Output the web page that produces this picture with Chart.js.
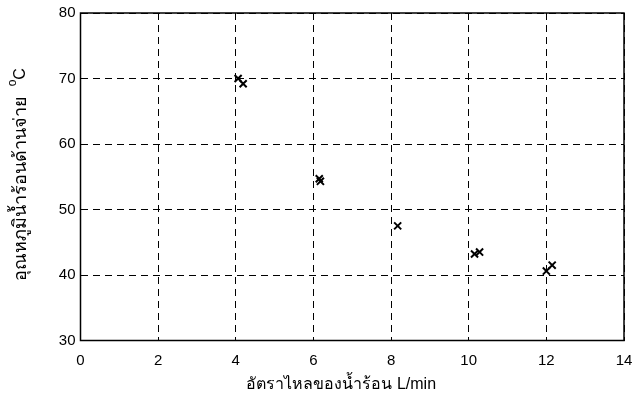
<!DOCTYPE html>
<html>
<head>
<meta charset="utf-8">
<script src="https://cdn.jsdelivr.net/npm/chart.js@4/dist/chart.umd.min.js"></script>
<style>
  html, body { margin: 0; padding: 0; background: #fff; }
  #wrap { width: 639px; height: 400px; }
</style>
</head>
<body>
<div id="wrap"><canvas id="c" width="639" height="400"></canvas></div>
<script>
// Hot-water flow rate (L/min) vs. supply-side hot water temperature (°C)
const flowRunA = [4.06, 6.15, 8.17, 10.15, 12.0];
const tempRunA = [70.0, 54.7, 47.5, 43.2, 40.6];
const flowRunB = [4.19, 6.18, 10.28, 12.15];
const tempRunB = [69.2, 54.3, 43.5, 41.5];

const xTicks = [0, 2, 4, 6, 8, 10, 12, 14];
const yTicks = [30, 40, 50, 60, 70, 80];

const xTitle = 'อัตราไหลของน้ำร้อน L/min';
const yTitle = 'อุณหภูมิน้ำร้อนด้านจ่าย';
const yUnitSup = 'o';
const yUnit = 'C';

const FONT = "'Liberation Sans', Arial, 'Noto Sans', sans-serif";

const toPoints = (xs, ys) => xs.map((x, i) => ({ x: x, y: ys[i] }));

// Axis titles, drawn by hand so the unit can carry a superscript
const titlesPlugin = {
  id: 'axisTitles',
  afterDraw(chart) {
    const { ctx, chartArea } = chart;
    ctx.save();
    ctx.fillStyle = '#000';
    ctx.textBaseline = 'middle';
    ctx.font = '16px ' + FONT;
    ctx.textAlign = 'center';
    ctx.fillText(xTitle, (chartArea.left + chartArea.right) / 2 - 11, 385);

    // rotated y title with superscript degree mark
    ctx.translate(21, (chartArea.top + chartArea.bottom) / 2 - 2);
    ctx.rotate(-Math.PI / 2);
    ctx.font = '18px ' + FONT;
    const wMain = ctx.measureText(yTitle + '  ').width;
    ctx.font = '12px ' + FONT;
    const wSup = ctx.measureText(yUnitSup).width;
    ctx.font = '16px ' + FONT;
    const wUnit = ctx.measureText(yUnit).width;
    let x = -(wMain + wSup + wUnit) / 2;
    ctx.textAlign = 'left';
    ctx.font = '18px ' + FONT;
    ctx.fillText(yTitle + '  ', x, 0);
    x += wMain;
    ctx.font = '12px ' + FONT;
    ctx.fillText(yUnitSup, x, -8);
    x += wSup;
    ctx.font = '16px ' + FONT;
    ctx.fillText(yUnit, x, 0);
    ctx.restore();
  }
};

// Solid frame round the plot area
const framePlugin = {
  id: 'frame',
  afterDatasetsDraw(chart) {
    const { ctx, chartArea: a } = chart;
    ctx.save();
    ctx.strokeStyle = '#000';
    ctx.lineWidth = 1.5;
    ctx.strokeRect(a.left, a.top, a.right - a.left, a.bottom - a.top);
    ctx.restore();
  }
};

new Chart(document.getElementById('c'), {
  type: 'scatter',
  data: {
    datasets: [
      {
        data: toPoints(flowRunA, tempRunA),
        pointStyle: 'crossRot',
        radius: 5,
        borderColor: '#000',
        borderWidth: 2,
        backgroundColor: '#000'
      },
      {
        data: toPoints(flowRunB, tempRunB),
        pointStyle: 'crossRot',
        radius: 5,
        borderColor: '#000',
        borderWidth: 2,
        backgroundColor: '#000'
      }
    ]
  },
  options: {
    responsive: false,
    animation: false,
    events: [],
    layout: { padding: { top: 13, right: 15, left: 0, bottom: 0 } },
    plugins: {
      legend: { display: false },
      tooltip: { enabled: false }
    },
    scales: {
      x: {
        type: 'linear',
        min: 0,
        max: 14,
        afterBuildTicks(scale) { scale.ticks = xTicks.map(v => ({ value: v })); },
        afterFit(scale) {
          scale.height = 59.5;
          scale.paddingLeft = 0;
          scale.paddingRight = 0;
        },
        ticks: {
          color: '#000',
          font: { family: FONT, size: 15 },
          padding: 11,
          maxRotation: 0
        },
        grid: {
          color: '#000',
          lineWidth: 1,
          drawTicks: false,
          tickLength: 0
        },
        border: { display: false, dash: [7, 5] }
      },
      y: {
        type: 'linear',
        min: 30,
        max: 80,
        afterBuildTicks(scale) { scale.ticks = yTicks.map(v => ({ value: v })); },
        afterFit(scale) {
          scale.width = 80.5;
          scale.paddingTop = 0;
          scale.paddingBottom = 0;
        },
        ticks: {
          color: '#000',
          font: { family: FONT, size: 15 },
          padding: 5
        },
        grid: {
          color: '#000',
          lineWidth: 1,
          drawTicks: false,
          tickLength: 0
        },
        border: { display: false, dash: [7, 5] }
      }
    }
  },
  plugins: [framePlugin, titlesPlugin]
});
</script>
</body>
</html>
